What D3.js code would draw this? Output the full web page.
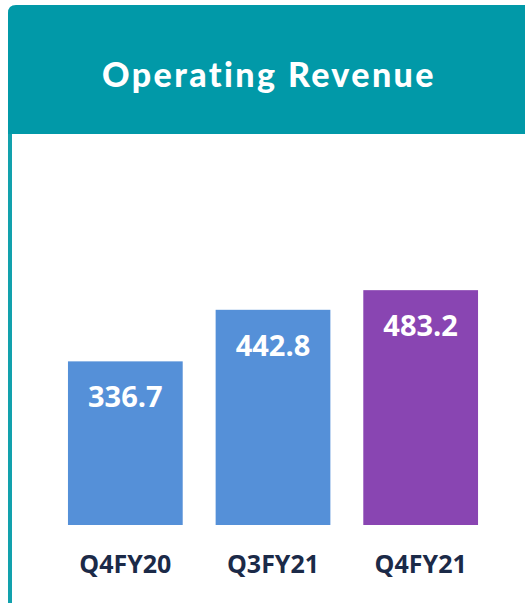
<!DOCTYPE html>
<html>
<head>
    <title>Operating Revenue</title>
    <script src="https://d3js.org/d3.v7.min.js"></script>
    <style>
        body { margin: 0; background: #fff; }
        .bar-label { font-family: "Open Sans", sans-serif; font-weight: 700; font-size: 29px; fill: #fff; }
        .cat-label { font-family: "Open Sans", sans-serif; font-weight: 700; font-size: 25px; fill: #1b2a48; }
        .title { font-family: Lato, sans-serif; font-weight: 900; font-size: 34px; letter-spacing: 2.4px; fill: #fff; }
    </style>
</head>
<body>
    <div id="chart"></div>
    <script>
	const quarters = ['Q4FY20', 'Q3FY21', 'Q4FY21'];
	const revenue = [336.7, 442.8, 483.2];
	const barColors = ['#5590d8', '#5590d8', '#8945b2'];
	const width = 525;
	const height = 603;

	const svg = d3.select("#chart").append("svg")
	    .attr("width", width)
	    .attr("height", height);

	// header band + left rule
	svg.append("path")
	    .attr("d", "M8,134 L8,13 Q8,5 16,5 L525,5 L525,134 Z")
	    .attr("fill", "#0199a8");
	svg.append("rect")
	    .attr("x", 8).attr("y", 134)
	    .attr("width", 4).attr("height", height - 134)
	    .attr("fill", "#12a1ad");

	svg.append("text")
	    .attr("class", "title")
	    .attr("x", 269).attr("y", 87)
	    .attr("text-anchor", "middle")
	    .text("Operating Revenue");

	const x = d3.scaleBand()
	    .domain(quarters)
	    .range([51.5, 494.5])
	    .paddingInner(0.223)
	    .paddingOuter(0.1115);

	const y = d3.scaleLinear()
	    .domain([0, 500])
	    .range([525, 282]);

	const g = svg.append("g");

	g.selectAll("rect.bar")
	    .data(quarters)
	    .enter().append("rect")
	        .attr("class", "bar")
	        .attr("x", d => x(d))
	        .attr("y", (d, i) => y(revenue[i]))
	        .attr("width", x.bandwidth())
	        .attr("height", (d, i) => y(0) - y(revenue[i]))
	        .attr("fill", (d, i) => barColors[i]);

	g.selectAll("text.bar-label")
	    .data(quarters)
	    .enter().append("text")
	        .attr("class", "bar-label")
	        .attr("x", d => x(d) + x.bandwidth() / 2)
	        .attr("y", (d, i) => y(revenue[i]) + 46)
	        .attr("text-anchor", "middle")
	        .text((d, i) => revenue[i].toFixed(1));

	// category axis, no line or ticks
	const xAxis = d3.axisBottom(x).tickSize(0).tickPadding(0);
	const ax = svg.append("g")
	    .attr("transform", `translate(0,${y(0)})`)
	    .call(xAxis);
	ax.select(".domain").remove();
	ax.selectAll("text")
	    .attr("class", "cat-label")
	    .attr("dy", null)
	    .attr("y", 48);
	</script>
</body>
</html>
